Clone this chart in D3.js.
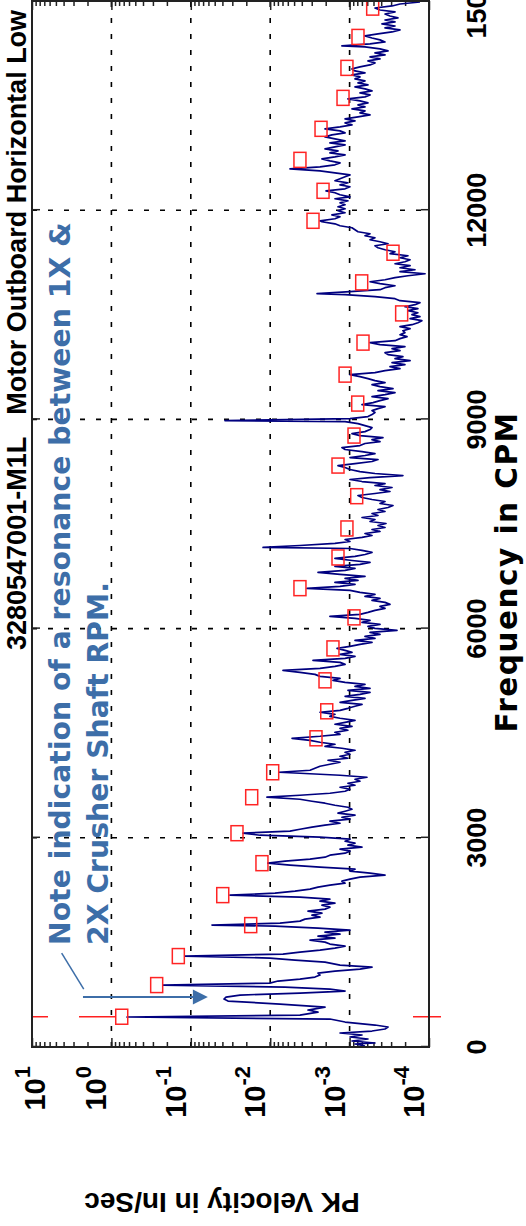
<!DOCTYPE html>
<html><head><meta charset="utf-8">
<script src="https://cdn.jsdelivr.net/npm/d3@7"></script>
<style>html,body{margin:0;padding:0;background:#fff;}svg{display:block;}</style>
</head><body>
<svg id="chart" width="526" height="1226"></svg>
<script>
// ---------- data ----------
const freqCPM = [14,43,57,86,115,143,172,201,229,258,
287,315,358,401,430,458,501,530,573,616,
659,688,716,745,774,802,831,860,888,917,
946,974,1003,1032,1060,1089,1118,1146,1175,1218,
1246,1275,1304,1332,1361,1390,1418,1447,1476,1504,
1533,1562,1590,1619,1648,1676,1705,1734,1748,1777,
1805,1834,1863,1891,1920,1948,1977,2006,2034,2063,
2092,2120,2149,2178,2206,2235,2264,2292,2321,2350,
2378,2407,2436,2464,2493,2522,2550,2579,2608,2636,
2665,2693,2722,2751,2779,2808,2837,2865,2894,2923,
2951,2980,3009,3037,3066,3095,3123,3152,3181,3209,
3238,3267,3295,3324,3353,3381,3410,3438,3467,3496,
3524,3553,3582,3610,3639,3668,3696,3725,3754,3782,
3811,3840,3868,3897,3926,3940,3969,3997,4026,4055,
4083,4112,4141,4169,4198,4226,4255,4284,4312,4341,
4370,4398,4427,4456,4484,4513,4542,4570,4599,4628,
4656,4685,4714,4742,4771,4800,4828,4857,4886,4914,
4943,4971,5000,5029,5057,5086,5115,5143,5172,5201,
5229,5258,5287,5315,5344,5373,5401,5430,5459,5487,
5516,5545,5573,5602,5631,5659,5688,5716,5745,5774,
5802,5831,5860,5888,5917,5946,5974,6003,6032,6060,
6089,6118,6146,6175,6204,6232,6261,6290,6318,6347,
6376,6404,6433,6461,6490,6519,6547,6576,6605,6633,
6662,6691,6719,6748,6777,6805,6834,6863,6891,6920,
6949,6977,7006,7035,7063,7092,7121,7149,7164,7192,
7221,7249,7278,7307,7335,7364,7393,7421,7450,7479,
7507,7536,7565,7593,7622,7651,7679,7708,7737,7765,
7794,7823,7851,7880,7909,7937,7966,7994,8023,8052,
8080,8109,8138,8166,8195,8224,8252,8281,8310,8338,
8367,8396,8424,8453,8482,8510,8539,8568,8596,8625,
8654,8682,8711,8739,8768,8797,8825,8854,8883,8911,
8940,8969,8983,9012,9040,9069,9098,9126,9155,9184,
9212,9241,9270,9298,9327,9356,9384,9413,9442,9470,
9499,9527,9556,9585,9613,9642,9671,9699,9728,9757,
9785,9814,9843,9871,9900,9929,9957,9986,10015,10043,
10072,10101,10129,10158,10187,10215,10244,10272,10301,10330,
10358,10387,10416,10444,10473,10502,10530,10559,10588,10616,
10645,10674,10702,10731,10760,10788,10803,10831,10860,10889,
10917,10946,10974,11003,11032,11060,11089,11118,11146,11175,
11204,11232,11261,11290,11318,11347,11376,11404,11433,11462,
11490,11519,11548,11576,11605,11634,11662,11691,11719,11748,
11777,11805,11834,11848,11877,11906,11934,11963,11992,12020,
12049,12078,12106,12135,12164,12192,12221,12250,12278,12307,
12336,12364,12393,12422,12450,12479,12507,12536,12565,12593,
12622,12651,12679,12708,12737,12765,12794,12823,12851,12880,
12909,12937,12966,12995,13023,13052,13081,13109,13138,13167,
13195,13224,13252,13281,13310,13338,13367,13396,13424,13453,
13482,13510,13539,13568,13596,13625,13654,13682,13711,13740,
13768,13797,13826,13854,13883,13912,13940,13969,13997,14026,
14055,14083,14112,14141,14169,14198,14227,14255,14284,14313,
14341,14356,14384,14413,14442,14470,14499,14528,14556,14585,
14614,14642,14671,14700,14728,14757,14785,14814,14843,14871,
14900,14929,14957,14986];

const velocity = [0.00064,0.000855,0.000479,0.000933,0.000587,0.000989,0.000698,0.00132,0.000522,0.000358,
0.000328,0.000479,0.00114,0.00177,0.636,0.00422,0.0025,0.00334,0.00204,0.00752,
0.034,0.0382,0.036,0.024,0.00422,0.00114,0.00177,0.00651,0.224,0.0101,
0.00797,0.00422,0.00273,0.00236,0.0025,0.00153,0.00074,0.000522,0.00132,0.00204,
0.00487,0.0101,0.118,0.0069,0.00422,0.00236,0.00153,0.00114,0.00177,0.00204,
0.00315,0.00153,0.0025,0.00132,0.00204,0.000989,0.0025,0.0087,0.0541,0.00752,
0.00422,0.00365,0.00236,0.00298,0.00223,0.00334,0.00204,0.00177,0.00223,0.00153,
0.00236,0.00177,0.00422,0.0321,0.0087,0.00487,0.00315,0.0025,0.00177,0.00114,
0.00125,0.000989,0.00074,0.000358,0.000553,0.000989,0.000855,0.00236,0.00563,0.0107,
0.00651,0.00315,0.00204,0.00177,0.00114,0.000989,0.00132,0.000698,0.00105,0.000855,
0.00114,0.000989,0.00236,0.0134,0.022,0.00563,0.00422,0.00298,0.00204,0.00132,
0.00177,0.000989,0.00125,0.000855,0.0014,0.00114,0.000933,0.00105,0.00153,0.00204,
0.00298,0.00422,0.011,0.00422,0.00177,0.00114,0.000989,0.00132,0.000855,0.00105,
0.00074,0.000855,0.000604,0.00132,0.00422,0.00775,0.00315,0.00273,0.00236,0.00177,
0.00132,0.00187,0.00105,0.00132,0.000989,0.00114,0.000855,0.00125,0.00204,0.00153,
0.00236,0.00315,0.00531,0.00236,0.00132,0.00153,0.00105,0.00132,0.000933,0.00153,
0.00114,0.000855,0.00132,0.00177,0.00153,0.00236,0.00132,0.00105,0.000855,0.000698,
0.00132,0.000933,0.00064,0.00114,0.00074,0.000553,0.00105,0.000553,0.000855,0.00064,
0.00114,0.00162,0.00132,0.00236,0.00273,0.00422,0.0069,0.00236,0.00153,0.00114,
0.00132,0.00289,0.00114,0.000855,0.00132,0.000933,0.00114,0.00144,0.000989,0.00074,
0.000522,0.000855,0.000479,0.00064,0.000414,0.000553,0.000253,0.000479,0.000587,0.000414,
0.000698,0.000553,0.000855,0.00177,0.00074,0.000587,0.000479,0.000358,0.000414,0.00031,
0.000358,0.000522,0.000414,0.00064,0.000479,0.00074,0.000989,0.00344,0.00132,0.000855,
0.00153,0.000784,0.00114,0.00064,0.00132,0.0025,0.00114,0.000855,0.00153,0.00074,
0.000553,0.000933,0.00153,0.000855,0.00064,0.000522,0.000698,0.000989,0.0123,0.00422,
0.00153,0.000989,0.00114,0.000698,0.000522,0.00064,0.000414,0.000522,0.000358,0.000439,
0.000348,0.000553,0.000479,0.000698,0.000439,0.000522,0.000358,0.000439,0.000328,0.000284,
0.000414,0.000358,0.000522,0.000698,0.000784,0.000479,0.00031,0.000414,0.000292,0.000479,
0.000358,0.000698,0.000989,0.000553,0.000213,0.000479,0.00074,0.000989,0.00114,0.0014,
0.000855,0.000522,0.000439,0.000989,0.00064,0.000479,0.000698,0.00114,0.00125,0.00074,
0.00064,0.000414,0.000522,0.00038,0.00074,0.000933,0.00064,0.000553,0.000522,0.00064,
0.000784,0.00114,0.0371,0.000989,0.000587,0.000522,0.000479,0.000522,0.000439,0.000358,
0.000698,0.000507,0.000414,0.000328,0.000522,0.000358,0.000268,0.000439,0.000284,0.000414,
0.000522,0.000358,0.000479,0.000587,0.00074,0.000989,0.000479,0.000358,0.000232,0.00031,
0.000201,0.000292,0.000173,0.000268,0.000213,0.000328,0.000358,0.000232,0.000292,0.000201,
0.000414,0.000553,0.000268,0.000232,0.000189,0.000232,0.000201,0.000213,0.000173,0.000232,
0.000164,0.000138,0.000123,0.000173,0.00013,0.000164,0.000138,0.000184,0.000138,0.000201,
0.00015,0.00013,0.000232,0.000268,0.000479,0.00114,0.00257,0.000989,0.000414,0.000358,
0.000268,0.000414,0.000553,0.000358,0.000268,0.000184,0.000112,0.000232,0.00015,0.000232,
0.000173,0.000268,0.000201,0.000173,0.000232,0.000184,0.00031,0.000268,0.000358,0.000439,
0.000479,0.000328,0.000414,0.000553,0.000479,0.00064,0.000553,0.000784,0.000855,0.000933,
0.00132,0.00153,0.00223,0.00236,0.00153,0.00132,0.00167,0.00114,0.0014,0.00114,
0.0014,0.00114,0.00132,0.00105,0.00153,0.000989,0.00132,0.00153,0.00198,0.00114,
0.000989,0.00132,0.00105,0.00153,0.00132,0.00114,0.000989,0.00153,0.00236,0.00563,
0.00236,0.00153,0.00132,0.00177,0.00223,0.00153,0.00114,0.00177,0.0014,0.00204,
0.00153,0.00114,0.00177,0.00114,0.00153,0.00204,0.00167,0.00114,0.00132,0.00204,
0.00132,0.000933,0.00114,0.000855,0.00114,0.000784,0.000553,0.00074,0.00064,0.000933,
0.00064,0.000784,0.000587,0.00074,0.00105,0.00064,0.000553,0.00074,0.000522,0.00064,
0.000855,0.000587,0.000784,0.00064,0.000855,0.00074,0.000933,0.00064,0.000855,0.000933,
0.00074,0.000553,0.000479,0.000587,0.000414,0.000553,0.000358,0.000479,0.000328,0.000414,
0.00064,0.00125,0.000553,0.000358,0.000414,0.000522,0.00064,0.000439,0.000292,0.000232,
0.000358,0.000268,0.000391,0.000268,0.000358,0.000246,0.00031,0.000358,0.000268,0.000414,
0.000479,0.000292,0.000232,0.00013];

// harmonic peak markers (red squares)
const markerFreq = [434,888,1304,1748,2178,2636,3066,3582,3940,4427,4814,5258,5716,6161,6580,7020,7436,7899,8338,8768,9227,9642,10101,10520,10965,11390,11848,12278,12722,13167,13611,14041,14485,14905];
const markerVel = [0.741,0.269,0.1436,0.0176,0.0396,0.0127,0.0262,0.0171,0.0093,0.00265,0.00194,0.00204,0.00162,0.00088,0.00422,0.0014,0.00108,0.000814,0.0014,0.00088,0.00079,0.00114,0.000678,0.000221,0.000704,0.000284,0.00289,0.00216,0.00422,0.00229,0.00121,0.00108,0.000784,0.000512];

const freqTicks = [0,3000,6000,9000,12000,15000];
const freqTickLabels = ["0","3000","6000","9000","12000","15000"];
const velTicks = [10,1,0.1,0.01,0.001,0.0001];
const velTickExp = ["1","0","-1","-2","-3","-4"];
const runSpeedCPM = 434;
const titleText = "3280547001-M1L   Motor Outboard Horizontal Low";
const xTitle = "Frequency in CPM";
const yTitle = "PK Velocity in In/Sec";
const noteLines = ["Note indication of a resonance between 1X &", "2X Crusher Shaft RPM."];
const noteArrow = {freq: 716, fromVel: 2.28, toVel: 0.061};
const noteLeader = {f1: 1347, v1: 4.23, f2: 831, v2: 2.23};

// ---------- drawing ----------
const svg = d3.select("#chart");
// The chart is drawn landscape and rotated 90deg counter-clockwise
const g = svg.append("g").attr("transform", "translate(0,1226) rotate(-90)");
const U0 = 179, U1 = 1225, V0 = 32, V1 = 429;
const x = d3.scaleLinear().domain([0, 15000]).range([U0, U1]);
const y = d3.scaleLog().domain([1e-4, 10]).range([V1, V0]);
const FONT = "'Liberation Sans', Arial, sans-serif";

g.append("clipPath").attr("id", "clip").append("rect")
  .attr("x", U0).attr("y", V0).attr("width", U1 - U0).attr("height", V1 - V0);

// grid
g.append("g").selectAll("line").data(freqTicks.filter(f => f > 0 && f < 15000)).join("line")
  .attr("x1", d => x(d)).attr("x2", d => x(d)).attr("y1", V0).attr("y2", V1)
  .attr("stroke", "#000").attr("stroke-width", 1.6).attr("stroke-dasharray", "5,11");
g.append("g").selectAll("line").data(velTicks.filter(v => v < 10 && v > 1e-4)).join("line")
  .attr("x1", U0).attr("x2", U1).attr("y1", d => y(d)).attr("y2", d => y(d))
  .attr("stroke", "#000").attr("stroke-width", 1.6).attr("stroke-dasharray", "5,11");

// axes ticks
const minor = [];
for (let e = -4; e < 1; e++) for (let m = 2; m <= 9; m++) minor.push(m * Math.pow(10, e));
function styleAxis(sel) { sel.select(".domain").remove(); sel.selectAll("line").attr("stroke", "#222").attr("stroke-width", 1.5); sel.selectAll("text").remove(); }
g.append("g").attr("transform", `translate(${U0},0)`).call(d3.axisLeft(y).tickValues(velTicks).tickSize(-9)).call(styleAxis);
g.append("g").attr("transform", `translate(${U0},0)`).call(d3.axisLeft(y).tickValues(minor).tickSize(-5)).call(styleAxis);
g.append("g").attr("transform", `translate(${U1},0)`).call(d3.axisRight(y).tickValues(velTicks).tickSize(-9)).call(styleAxis);
g.append("g").attr("transform", `translate(${U1},0)`).call(d3.axisRight(y).tickValues(minor).tickSize(-5)).call(styleAxis);
g.append("g").attr("transform", `translate(0,${V1})`).call(d3.axisBottom(x).tickValues(freqTicks).tickSize(-8)).call(styleAxis);
g.append("g").attr("transform", `translate(0,${V0})`).call(d3.axisTop(x).tickValues(freqTicks).tickSize(-8)).call(styleAxis);

// spectrum
const pts = freqCPM.map((f, i) => [f, velocity[i]]);
g.append("path").datum(pts)
  .attr("clip-path", "url(#clip)")
  .attr("fill", "none").attr("stroke", "#00007f").attr("stroke-width", 1.7).attr("stroke-linejoin", "round")
  .attr("d", d3.line().x(d => x(d[0])).y(d => y(d[1])));

// running speed marker
g.append("line").attr("x1", x(runSpeedCPM)).attr("x2", x(runSpeedCPM)).attr("y1", V0).attr("y2", V1 + 12)
  .attr("stroke", "#ff2020").attr("stroke-width", 1.5).attr("stroke-dasharray", "16,31,37,297,28");

// harmonic markers
g.append("g").selectAll("rect").data(markerFreq).join("rect")
  .attr("x", d => x(d) - 7.5).attr("y", (d, i) => y(markerVel[i]) - 6)
  .attr("width", 15).attr("height", 12)
  .attr("fill", "none").attr("stroke", "#ff2424").attr("stroke-width", 1.5);

// frame
g.append("rect").attr("x", U0).attr("y", V0).attr("width", U1 - U0).attr("height", V1 - V0)
  .attr("fill", "none").attr("stroke", "#222").attr("stroke-width", 2);

// frequency tick labels
g.append("g").selectAll("text").data(freqTicks).join("text")
  .attr("x", d => x(d)).attr("y", 486).attr("text-anchor", "middle")
  .attr("font-family", FONT).attr("font-weight", "bold").attr("font-size", 27).attr("fill", "#000")
  .text((d, i) => freqTickLabels[i]);

// velocity tick labels
velTicks.forEach((t, i) => {
  const tx = g.append("text").attr("x", 160).attr("y", Math.max(y(t) - 5, 45))
    .attr("text-anchor", "end").attr("font-family", FONT).attr("font-weight", "bold")
    .attr("font-size", 29).attr("fill", "#000");
  tx.append("tspan").text("10");
  tx.append("tspan").attr("dy", -15).attr("font-size", 22).text(velTickExp[i]);
});

// titles
g.append("text").attr("x", 576).attr("y", 26).attr("font-family", FONT).attr("font-weight", "bold")
  .attr("font-size", 27).style("white-space", "pre").attr("fill", "#000").text(titleText);
g.append("text").attr("x", 654).attr("y", 517).attr("text-anchor", "middle")
  .attr("font-family", "'DejaVu Sans', Verdana, sans-serif")
  .attr("font-weight", "bold").attr("font-size", 29.5).attr("letter-spacing", 1.5)
  .attr("fill", "#000").text(xTitle);
g.append("text").attr("transform", "translate(33,222) rotate(-90)").attr("text-anchor", "middle")
  .attr("font-family", FONT).attr("font-weight", "bold").attr("font-size", 28).attr("fill", "#000").text(yTitle);

// annotation
const NOTE = "#3d6ea8";
const ua = x(noteArrow.freq), vt = y(noteArrow.fromVel), vh = y(noteArrow.toVel);
g.append("line").attr("x1", ua).attr("x2", ua).attr("y1", vt).attr("y2", vh - 14)
  .attr("stroke", NOTE).attr("stroke-width", 2);
g.append("path").attr("d", `M${ua - 7.5},${vh - 15}L${ua + 7.5},${vh - 15}L${ua},${vh}Z`).attr("fill", NOTE);
g.append("line").attr("x1", x(noteLeader.f1)).attr("y1", y(noteLeader.v1))
  .attr("x2", x(noteLeader.f2)).attr("y2", y(noteLeader.v2)).attr("stroke", NOTE).attr("stroke-width", 1.5);
g.append("text").attr("x", 281).attr("y", 70).attr("font-family", "'DejaVu Sans', Verdana, sans-serif")
  .attr("font-weight", "bold").attr("font-size", 28.3).attr("fill", NOTE).text(noteLines[0]);
g.append("text").attr("x", 281).attr("y", 108).attr("font-family", "'DejaVu Sans', Verdana, sans-serif")
  .attr("font-weight", "bold").attr("font-size", 28.3).attr("fill", NOTE).text(noteLines[1]);
</script>
</body></html>
